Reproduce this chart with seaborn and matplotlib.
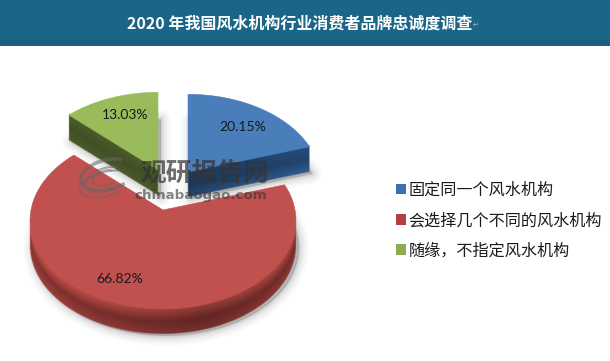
import numpy as np
import seaborn as sns
import matplotlib
matplotlib.use('Agg')
import matplotlib.pyplot as plt
from matplotlib.patches import Patch, Polygon, Arc

sns.set_theme(style="white")
plt.rcParams['font.family'] = ['Noto Sans CJK SC', 'DejaVu Sans']

# values
title = '2020 年我国风水机构行业消费者品牌忠诚度调查'
labels = ['固定同一个风水机构', '会选择几个不同的风水机构', '随缘，不指定风水机构']
shares = [20.15, 66.82, 13.03]
share_labels = ['20.15%', '66.82%', '13.03%']
top_colors = ['#4a7ebb', '#c1514e', '#9abb59']

# layout of the fake 3D pie, in pixels
apex = [(188, 172), (163, 210), (158, 170)]
label_pos = [(243, 127), (120, 279), (125, 115)]
side_top = ['#22426a', '#a8453f', '#4c5d2b']
side_mid = ['#1f3c60', '#6e2a28', '#414f26']
side_low = ['#2a4f7c', '#853633', '#4b5a2b']
RX, RY, PERSP, DEPTH = 132, 87, 0.12, 25


def project(u, v, cx, cy):
    # squashed circle with a little perspective, front of the pie is bigger
    s = 1 / (1 + PERSP * v)
    return np.column_stack([cx + RX * u * s, cy - RY * v * s])


def lower_edge(pts, xs):
    # lowest screen y of the outline above each column
    y = np.full(xs.shape, np.nan)
    for (x0, y0), (x1, y1) in zip(pts[:-1], pts[1:]):
        if x0 == x1:
            continue
        m = (xs >= min(x0, x1)) & (xs <= max(x0, x1))
        yy = y0 + (xs[m] - x0) / (x1 - x0) * (y1 - y0)
        y[m] = np.fmax(y[m], yy)
    return y


def side_image(i, pts):
    # gradient image of the extruded side, alpha gives a smooth lower edge
    x0, x1 = np.floor(pts[:, 0].min()) - 1, np.ceil(pts[:, 0].max()) + 1
    y0, y1 = np.floor(pts[:, 1].min()) - 1, np.ceil(pts[:, 1].max()) + DEPTH + 1
    xs = np.arange(x0, x1, 0.5) + 0.25
    ys = np.arange(y0, y1, 0.5) + 0.25
    top = lower_edge(pts, xs)
    X, Y = np.meshgrid(xs, ys)
    T = np.nan_to_num(np.broadcast_to(top, X.shape), nan=-1e4)
    q = np.clip((Y - T) / DEPTH, 0, 1)[..., None]
    c_top, c_mid, c_low = [np.array(matplotlib.colors.to_rgb(c[i])) for c in (side_top, side_mid, side_low)]
    rgb = np.where(q < 0.5, c_top + (c_mid - c_top) * q / 0.5, c_mid + (c_low - c_mid) * (q - 0.5) / 0.5)
    if i == 1:
        # rim of the big slice is darkest right of the middle
        f = 0.88 + 0.25 * np.abs((X - apex[i][0]) / RX - 0.3)
        rgb = np.clip(rgb * f[..., None], 0, 1)
    elif i == 0:
        f = 0.9 + 0.25 * (X - x0) / (x1 - x0)
        rgb = np.clip(rgb * f[..., None], 0, 1)
    a = np.clip((T + DEPTH - Y) / 0.8 + 0.5, 0, 1)
    a[Y < T - 1.5] = 0
    a[:, np.isnan(top)] = 0
    ax.imshow(np.dstack([rgb, a]), extent=(x0, x1, y1, y0), origin='upper', aspect='auto',
              interpolation='bilinear', zorder=2)


fig, ax = plt.subplots(figsize=(6.1, 3.61), dpi=100)
fig.subplots_adjust(0, 0, 1, 1)
wedges, _ = ax.pie(shares, startangle=90, counterclock=False, colors=top_colors)
angles = [(w.theta1, w.theta2) for w in wedges]
for w in wedges:
    w.remove()

# header band
ax.fill_between([0, 610], 0, 46, color='#1b6587', lw=0, zorder=0)
ax.fill_between([0, 610], 40, 46, color='#1e5f7f', lw=0, zorder=0)
ax.text(300, 23.5, title, color='white', fontsize=11.5, fontweight='bold',
        ha='center', va='center', zorder=6)
ax.text(476, 25, '↵', color='#9fb8c6', fontsize=5, ha='center', va='center', family='DejaVu Sans')

outlines = []
for (a1, a2), (cx, cy) in zip(angles, apex):
    t = np.radians(np.linspace(a1, a2, 160))
    outlines.append((np.r_[0, np.cos(t), 0], np.r_[0, np.sin(t), 0], cx, cy))

# soft shadow under everything
for lw, alpha in zip([14, 11, 8, 5, 3, 1.5], [0.02, 0.025, 0.03, 0.035, 0.04, 0.04]):
    for u, v, cx, cy in outlines:
        low = project(u, v, cx, cy) + [3, DEPTH + 2]
        ax.add_patch(Polygon(low, closed=True, fc=(0, 0, 0, alpha), ec=(0, 0, 0, alpha),
                             lw=lw, joinstyle='round', zorder=1))

# side faces then top faces
for i, (u, v, cx, cy) in enumerate(outlines):
    pts = project(u, v, cx, cy)
    side_image(i, pts)
    ax.add_patch(Polygon(pts, closed=True, fc=top_colors[i], ec=top_colors[i], lw=0.4, zorder=3))
    ax.text(label_pos[i][0], label_pos[i][1], share_labels[i], color='#111a1f', fontsize=10,
            ha='center', va='center', family='Lato', zorder=5)

# watermark
ax.text(205, 173, '观研报告网', color='#333333', alpha=0.72, fontsize=18.5, fontweight='bold',
        ha='center', va='center', zorder=4)
ax.text(201, 195, 'chinabaogao.com', color='#333333', alpha=0.6, fontsize=9.6, fontweight='bold',
        ha='center', va='center', family='DejaVu Sans', zorder=4)
for w_, h_, x_, y_, lw_ in [(54, 30, 107, 175, 2.6), (42, 22, 106, 179, 1.4), (26, 15, 105, 178, 1.2), (54, 24, 106, 184, 1.2)]:
    ax.add_patch(Arc((x_, y_), w_, h_, angle=-15, theta1=40, theta2=330, color='#666666', lw=lw_, alpha=0.55, zorder=4))

# legend
handles = [Patch(fc=c, ec='none') for c in ['#3a70ad', '#b3403e', '#8cad4f']]
ax.legend(handles, labels, loc='upper left', bbox_to_anchor=(383, 169), bbox_transform=ax.transData,
          frameon=False, fontsize=11.6, labelspacing=0.82, handlelength=0.63, handleheight=0.63,
          handletextpad=0.15, borderpad=0.3, labelcolor='#1a1a1a')

ax.set_aspect('auto')
ax.set_xlim(0, 610)
ax.set_ylim(361, 0)
ax.axis('off')

fig.savefig('out.png', dpi=100, facecolor='white')
